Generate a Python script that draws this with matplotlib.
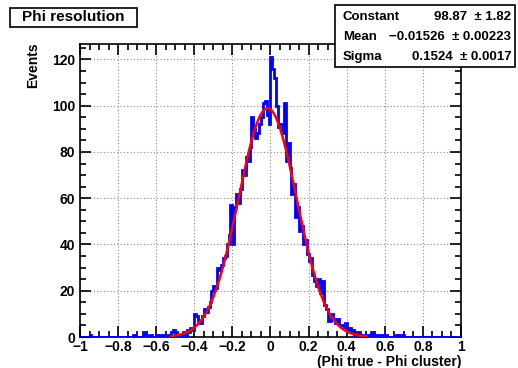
import numpy as np
import matplotlib.pyplot as plt
from matplotlib.ticker import MultipleLocator
from matplotlib.patches import Rectangle

plt.rcParams['font.family'] = ['Liberation Sans', 'DejaVu Sans']
plt.rcParams['font.weight'] = 'bold'

# histogram: 200 bins of width 0.01 on [-1, 1]
bin_width = 0.01
core_start = -0.55
core_counts = [0, 1, 1, 2, 3, 2, 1, 0, 1, 2,
               1, 3, 2, 4, 3, 10, 9, 7, 6, 9,
               12, 11, 13, 15, 20, 22, 21, 30, 29, 31,
               34, 35, 40, 44, 57, 40, 56, 62, 58, 64,
               72, 70, 78, 76, 82, 95, 90, 86, 88, 92,
               95, 101, 102, 96, 92, 121, 116, 112, 100, 91,
               92, 88, 101, 76, 84, 73, 62, 66, 52, 56,
               46, 48, 40, 42, 36, 33, 34, 27, 24, 22,
               25, 19, 24, 14, 12, 7, 7, 10, 8, 6,
               8, 5, 5, 4, 6, 3, 4, 2, 3, 1,
               1, 2, 1, 1, 0, 1, 0, 1, 2, 1,
               0, 1]
extra_x = [-0.95, -0.72, -0.67, -0.66, -0.63, -0.60, -0.58, -0.57,
           0.58, 0.60, 0.66, 0.67, 0.68, 0.69]
extra_n = [1, 1, 2, 1, 1, 1, 1, 1, 1, 1, 1, 1, 1, 1]

# gaussian fit results
fit_const, fit_mean, fit_sigma = 98.87, -0.01526, 0.1524
fit_range = (-0.52, 0.50)
stats_rows = [("Constant", "98.87  \u00b1 1.82"),
              ("Mean", "\u22120.01526  \u00b1 0.00223"),
              ("Sigma", "0.1524  \u00b1 0.0017")]

edges = np.round(np.arange(-1, 1.0001, bin_width), 4)
counts = np.zeros(len(edges) - 1)
i0 = int(round((core_start + 1) / bin_width))
counts[i0:i0 + len(core_counts)] = core_counts
for x, n in zip(extra_x, extra_n):
    counts[int(round((x + 1) / bin_width))] += n

fig = plt.figure(figsize=(5.18, 3.68), dpi=100)
ax = fig.add_axes([0.1544, 0.0842, 0.7356, 0.7958])

ax.stairs(counts, edges, color='blue', lw=2.0, zorder=3)
xf = np.linspace(*fit_range, 300)
ax.plot(xf, fit_const * np.exp(-0.5 * ((xf - fit_mean) / fit_sigma) ** 2),
        color='red', lw=1.8, zorder=4)

ax.set_xlim(-1, 1)
ax.set_ylim(0, 126.6)
ax.xaxis.set_major_locator(MultipleLocator(0.2))
ax.xaxis.set_minor_locator(MultipleLocator(0.05))
ax.yaxis.set_major_locator(MultipleLocator(20))
ax.yaxis.set_minor_locator(MultipleLocator(5))
ax.tick_params(which='both', direction='in', top=True, right=True, width=1.2)
ax.tick_params(which='major', length=8, labelsize=10)
ax.tick_params(which='minor', length=4)
ax.tick_params(axis='x', which='major', pad=2)
ax.set_xticks(np.round(np.arange(-1, 1.01, 0.2), 2))
ax.set_xticklabels(['\u22121', '\u22120.8', '\u22120.6', '\u22120.4', '\u22120.2',
                    '0', '0.2', '0.4', '0.6', '0.8', '1'])
for s in ax.spines.values():
    s.set_linewidth(1.2)
ax.grid(True, which='major', ls=(0, (1, 2)), color='#888888', lw=0.8, zorder=0)

fig.text(0.89, 0.016, '(Phi true - Phi cluster)', ha='right', va='center',
         fontsize=10, fontweight='bold')
fig.text(0.064, 0.885, 'Events', rotation=90, ha='center', va='top',
         fontsize=10, fontweight='bold')

# title box
fig.patches.append(Rectangle((0.019, 0.927), 0.245, 0.052, transform=fig.transFigure,
                             fill=True, fc='white', ec='black', lw=1.2))
fig.text(0.1415, 0.953, 'Phi resolution', ha='center', va='center',
         fontsize=11, fontweight='bold')

# stats box
fig.patches.append(Rectangle((0.647, 0.818), 0.347, 0.168, transform=fig.transFigure,
                             fill=True, fc='white', ec='black', lw=1.2, zorder=5))
for k, (lab, val) in enumerate(stats_rows):
    y = 1 - (17 + 20 * k) / 368
    fig.text(0.662, y, lab, ha='left', va='center', fontsize=9.5, fontweight='bold', zorder=6)
    fig.text(0.987, y, val, ha='right', va='center', fontsize=9.5, fontweight='bold', zorder=6)

fig.savefig('out.png', dpi=100)
